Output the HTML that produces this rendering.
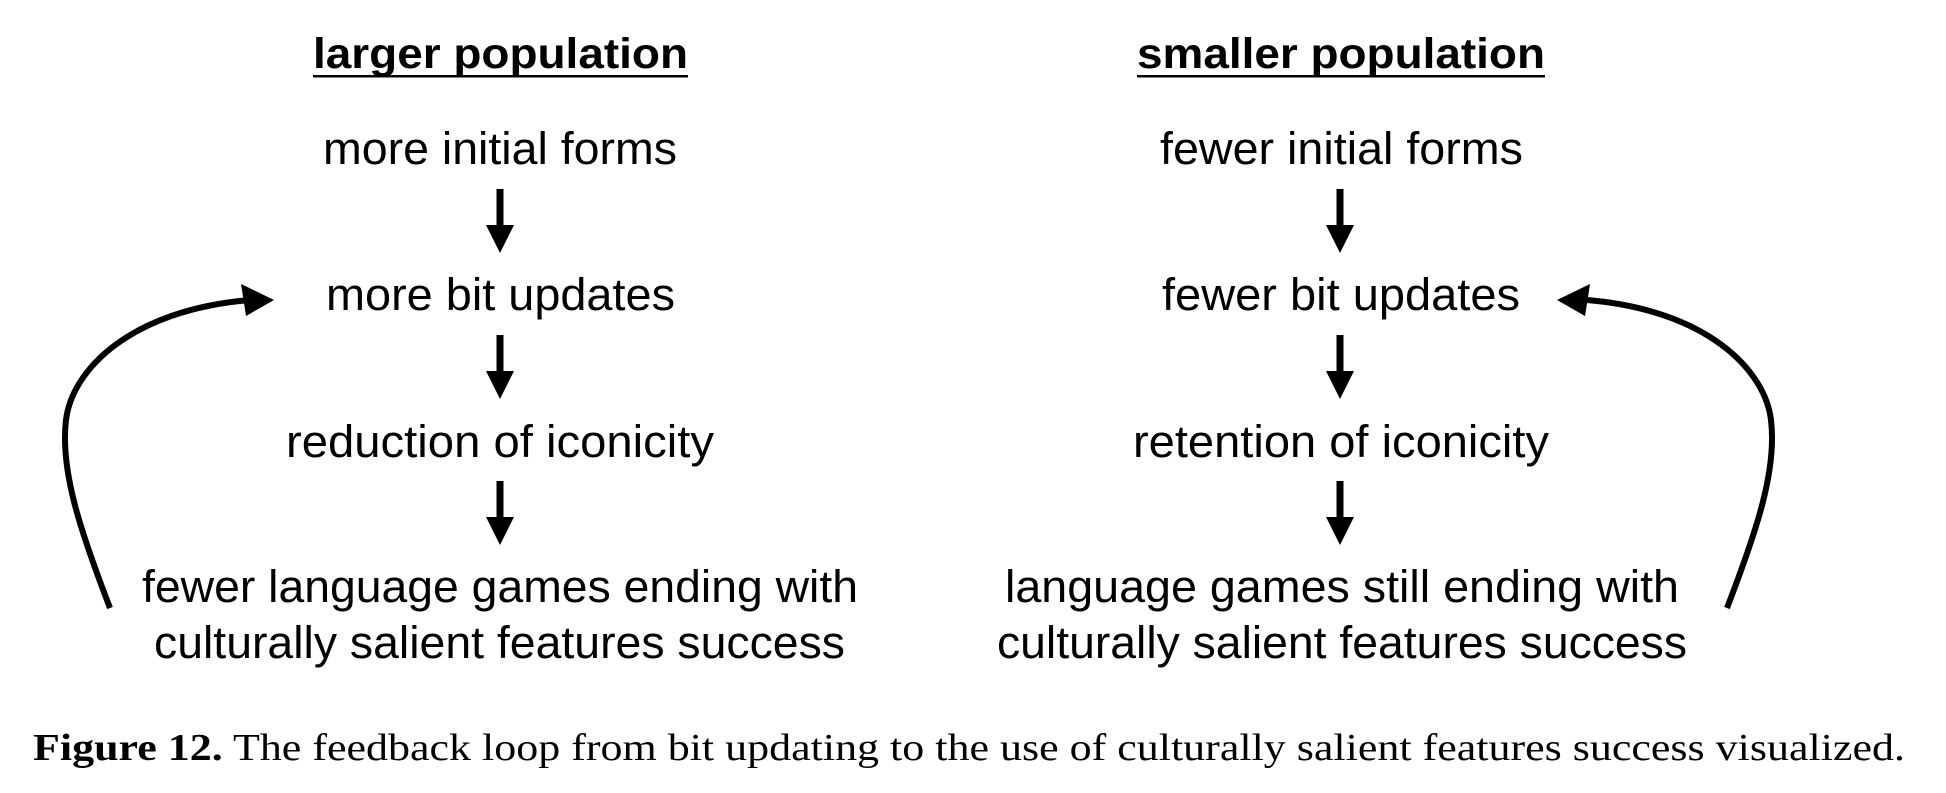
<!DOCTYPE html>
<html><head><style>html,body{margin:0;padding:0;background:#fff;}</style></head>
<body>
<svg width="1946" height="788" viewBox="0 0 1946 788" xmlns="http://www.w3.org/2000/svg">
<defs>
<g id="da">
<rect x="-3.5" y="0" width="7" height="40" fill="#000"/>
<polygon points="-14,36 14,36 0,64" fill="#000"/>
</g>
</defs>
<g font-family="'Liberation Sans', Arial, sans-serif" fill="#000" text-anchor="start">
<text x="313" y="68" font-size="43" font-weight="bold" textLength="375" lengthAdjust="spacingAndGlyphs">larger population</text>
<rect x="313" y="75" width="375" height="2.5" fill="#000"/>
<text x="1137" y="68" font-size="43" font-weight="bold" textLength="408" lengthAdjust="spacingAndGlyphs">smaller population</text>
<rect x="1137" y="75" width="408" height="2.5" fill="#000"/>

<g font-size="45">
<text x="323" y="164" textLength="354" lengthAdjust="spacingAndGlyphs">more initial forms</text>
<text x="326" y="310" textLength="349" lengthAdjust="spacingAndGlyphs">more bit updates</text>
<text x="286" y="457" textLength="428" lengthAdjust="spacingAndGlyphs">reduction of iconicity</text>
<text x="142" y="602" textLength="716" lengthAdjust="spacingAndGlyphs">fewer language games ending with</text>
<text x="154" y="658" textLength="691" lengthAdjust="spacingAndGlyphs">culturally salient features success</text>

<text x="1160" y="164" textLength="363" lengthAdjust="spacingAndGlyphs">fewer initial forms</text>
<text x="1162" y="310" textLength="358" lengthAdjust="spacingAndGlyphs">fewer bit updates</text>
<text x="1133" y="457" textLength="416" lengthAdjust="spacingAndGlyphs">retention of iconicity</text>
<text x="1005" y="602" textLength="674" lengthAdjust="spacingAndGlyphs">language games still ending with</text>
<text x="997" y="658" textLength="690" lengthAdjust="spacingAndGlyphs">culturally salient features success</text>
</g>
</g>

<use href="#da" x="500" y="189"/>
<use href="#da" x="500" y="335"/>
<use href="#da" x="500" y="481"/>
<use href="#da" x="1340" y="189"/>
<use href="#da" x="1340" y="335"/>
<use href="#da" x="1340" y="481"/>

<path d="M110,608 C80,530 60,470 66,420 S130,310 250,300" fill="none" stroke="#000" stroke-width="6"/>
<polygon points="274,300 241,284 246,316" fill="#000"/>
<path d="M1727,608 C1757,530 1777,470 1771,420 S1707,310 1587,300" fill="none" stroke="#000" stroke-width="6"/>
<polygon points="1557,300 1590,284 1585,316" fill="#000"/>

<text x="33" y="760" font-family="'Liberation Serif', serif" font-size="38" textLength="1872" lengthAdjust="spacingAndGlyphs"><tspan font-weight="bold">Figure 12.</tspan> The feedback loop from bit updating to the use of culturally salient features success visualized.</text>
</svg>
</body></html>
